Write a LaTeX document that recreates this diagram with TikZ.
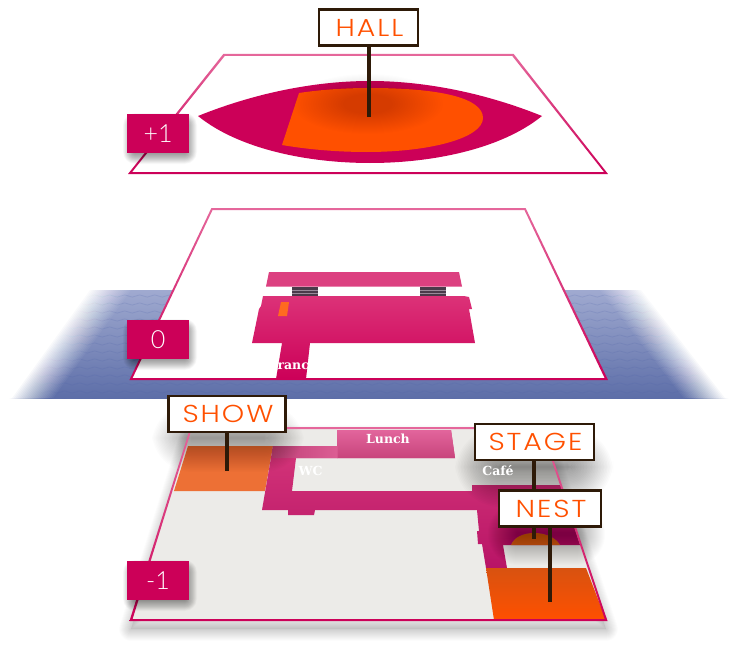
\documentclass[tikz,border=0pt]{standalone}
\usepackage{fontspec}
\usetikzlibrary{decorations.pathmorphing}
\newfontfamily\labfont[LetterSpace=8,FakeStretch=1.16]{Poppins Light}
\newfontfamily\lvlfont{Lato Light}
\newfontfamily\roomfont{DejaVu Serif}
\definecolor{mag}{HTML}{CC0058}
\definecolor{pinkline}{HTML}{E5679B}
\definecolor{org}{HTML}{FF5000}
\definecolor{polecol}{HTML}{2E1A08}
\definecolor{floorgrey}{HTML}{ECEBE8}
\definecolor{bandtop}{HTML}{A0AAD0}
\definecolor{bandbot}{HTML}{5D6EA8}
\definecolor{wave}{HTML}{4C60A8}
\definecolor{barpink}{HTML}{DC4080}
\definecolor{stairdark}{HTML}{4A3A4A}
\definecolor{stairlite}{HTML}{9A8A9A}
\definecolor{mainpink}{HTML}{DC3278}
\definecolor{liftorg}{HTML}{FF6A20}
\definecolor{showorg}{HTML}{ED7035}
\definecolor{ringa}{HTML}{D83A7C}
\definecolor{ringb}{HTML}{D02E74}
\definecolor{ringc}{HTML}{B81466}
\definecolor{lunchtop}{HTML}{E2659C}
\definecolor{lunchbot}{HTML}{C8447C}
\definecolor{ringleft}{HTML}{C04078}
\definecolor{ringright}{HTML}{DC5E94}
\definecolor{stageorg}{HTML}{E86020}
\definecolor{nestdark}{HTML}{D85210}
% soft shadow of a rectangle: stacked translucent rounded rectangles
\newcommand{\softrect}[6]{%
  \foreach \k in {1,...,30}{%
    \pgfmathsetmacro{\w}{#5*(\k/30-0.5)}%
    \pgfmathsetmacro{\rr}{max(0.1,#5*\k/30)}%
    \fill[black,opacity=#6,rounded corners=\rr pt] ({#1-\w},{#2-\w}) rectangle ({#3+\w},{#4+\w});
  }}
\tikzset{
  flag/.style={draw=polecol,line width=2.2pt,fill=white,text=org,inner sep=0pt,
     minimum height=36pt,execute at begin node=\kern2pt,
     font=\labfont\fontsize{24.5}{24.5}\selectfont},
  pole/.style={draw=polecol,line width=4pt},
  level/.style={fill=mag,text=white,minimum width=62pt,minimum height=39pt,inner sep=0pt,
     font=\lvlfont\fontsize{25}{25}\selectfont},
  room/.style={text=white,inner sep=0pt,font=\roomfont\bfseries\fontsize{12.5}{12.5}\selectfont},
}
\begin{document}
\begin{tikzpicture}[x=1pt,y=-1pt]
\useasboundingbox (0,0) rectangle (743,650);
\fill[white] (0,0) rectangle (743,650);

% ---------- blue band
\begin{scope}
  \clip (0,290) rectangle (743,398);
  \shade[top color=bandtop,bottom color=bandbot] (0,290) rectangle (743,398);
  \foreach \yy in {296,304,...,400}
    \draw[color=wave,opacity=.18,line width=.8pt,decorate,
      decoration={snake,amplitude=1.1pt,segment length=15pt}] (0,\yy) -- (743,\yy);
  \foreach \k in {1,...,24}{
    \pgfmathsetmacro{\a}{1/(24-\k+1)}
    \pgfmathsetmacro{\d}{43*\k/24}
    \fill[white,opacity=\a] (-5,285) -- ({133-\d},290) -- ({55-\d},398) -- (-5,403) -- cycle;
    \fill[white,opacity=\a] (748,285) -- ({598+\d},290) -- ({682+\d},398) -- (748,403) -- cycle;
  }
\end{scope}

% ---------- floor +1
\fill[white] (224,55) -- (513,55) -- (606,173) -- (130,173) -- cycle;
\fill[mag] (198,116) .. controls (260,91) and (320,81) .. (370,81)
   .. controls (420,81) and (480,91) .. (542,116)
   .. controls (500,150) and (430,163) .. (370,163)
   .. controls (310,163) and (240,150) .. (198,116) -- cycle;
\fill[org] (299,93) .. controls (325,89) and (350,88) .. (370,88)
   .. controls (440,88) and (483,98) .. (483,118)
   .. controls (483,138) and (430,152) .. (367,152)
   .. controls (335,152) and (305,149) .. (282,145) -- cycle;
\foreach \k in {10,...,30}
  \fill[black,opacity=.0065] (368,104) ellipse ({2.5*\k} and {1*\k});
\shade[even odd rule,top color=pinkline,bottom color=mag]
  (223.3,54) -- (513.7,54) -- (608,174) -- (128,174) -- cycle
  (224.7,56) -- (512.3,56) -- (604,172) -- (132.1,172) -- cycle;
\softrect{129}{119}{191}{158}{12}{.015}
\node[level] (lvlA) at (158,133.5) {+1};
\coordinate (hallfoot) at (368,117);
\node[flag,minimum width=99pt] (hall) at (368.5,27.5) {HALL};
\draw[pole] (hall.south) -- (hall.south |- hallfoot);

% ---------- floor 0
\fill[white] (212,209) -- (525,209) -- (606,379) -- (131,379) -- cycle;
\fill[barpink] (269,272) -- (459,272) -- (462,286.5) -- (266,286.5) -- cycle;
\foreach \sx in {292,420}{
  \fill[stairdark] (\sx,287) rectangle ({\sx+25.5},296);
  \draw[stairlite,line width=.6pt] (\sx,290) -- ({\sx+25.5},290) (\sx,293) -- ({\sx+25.5},293);
}
\shade[top color=mainpink,bottom color=mag]
  (263,296) -- (464,296) -- (469,297) -- (472,309) -- (469,309) -- (475,343)
  -- (310,343) -- (306,379) -- (276,379) -- (282,343) -- (252,343) -- (259,309) -- (261,306) -- cycle;
\fill[liftorg] (281,302) -- (289,302) -- (287,316) -- (278,316) -- cycle;
\node[room] (entrance) at (285,365.5) {Entrance};
\shade[even odd rule,top color=pinkline,bottom color=mag]
  (211.4,208) -- (525.6,208) -- (608,380) -- (129.4,380) -- cycle
  (212.6,210) -- (524.4,210) -- (604.6,378) -- (132.6,378) -- cycle;
\softrect{129}{325}{191}{364}{12}{.015}
\node[level] (lvlB) at (158,339.5) {0};

% ---------- floor -1
\begin{scope}[shift={(0,9)}]
  \fill[black,opacity=.05] (191,428) -- (542,428) -- (606,620) -- (131,620) -- cycle;
  \foreach \k in {1,...,24}
    \draw[black,opacity=.008,line width=\k pt,line join=round]
      (191,428) -- (542,428) -- (606,620) -- (131,620) -- cycle;
\end{scope}
\fill[floorgrey] (191,428) -- (542,428) -- (606,620) -- (131,620) -- cycle;
% show room
\fill[showorg] (188,446) -- (273,446) -- (265,491) -- (174,491) -- cycle;
% corridors and rooms
\shade[top color=ringa,middle color=ringb,bottom color=ringc]
  (273,446) -- (337,446) -- (337,430) -- (451,430) -- (455,458) -- (296,458)
  -- (292,491) -- (472,491) -- (472,485) -- (561,485) -- (580,545) -- (503,545)
  -- (507,568) -- (486,568) -- (482,544) -- (478,544) -- (477,531) -- (479,531)
  -- (477,510) -- (315,510) -- (314,515) -- (288,515) -- (288,510) -- (262,510) -- cycle;
\shade[top color=lunchtop,bottom color=lunchbot]
  (337,430) -- (451,430) -- (455,458) -- (337,458) -- cycle;
\shade[left color=ringleft,right color=ringright]
  (273,446) -- (337.5,446) -- (337.5,458) -- (296,458) -- (272,458) -- cycle;
% stage
\fill[stageorg] (511,545) .. controls (514,537) and (524,533) .. (534,533)
  .. controls (546,533) and (556,538) .. (560,545) -- cycle;
% nest room
\shade[top color=nestdark,middle color=org,bottom color=org]
  (486,568) -- (586,568) -- (606,620) -- (494,620) -- cycle;
% shadows of the flags on the floor
\begin{scope}
  \clip (60,399) rectangle (640,640);
  \softrect{172}{424}{284}{452}{40}{.012}
  \softrect{478}{450}{590}{484}{46}{.017}
  \softrect{503}{518}{590}{550}{30}{.011}
\end{scope}
\tikzset{roomsmall/.style={room,font=\roomfont\bfseries\fontsize{12.5}{12.5}\selectfont}}
\node[roomsmall] (lunch) at (388,439) {Lunch};
\node[roomsmall] (wc) at (310.5,470.5) {WC};
\node[roomsmall] (cafe) at (498,471) {Café};
\shade[even odd rule,top color=pinkline,bottom color=mag]
  (190.5,427) -- (542.5,427) -- (607.5,621) -- (129.5,621) -- cycle
  (191.7,429) -- (541.3,429) -- (604.7,619) -- (132.6,619) -- cycle;
\softrect{129}{566}{191}{605}{12}{.015}
\node[level] (lvlC) at (158,580.5) {-1};

% flags of floor -1
\coordinate (showfoot) at (227,471);
\coordinate (stagefoot) at (534,539);
\coordinate (nestfoot) at (550,602);
\node[flag,minimum width=117pt] (show) at (227,414) {SHOW};
\draw[pole] (show.south -| showfoot) -- (showfoot);
\node[flag,minimum width=119pt] (stage) at (534.5,442) {STAGE};
\draw[pole] (stage.south -| stagefoot) -- (stagefoot);
\node[flag,minimum width=102pt] (nest) at (550,508.5) {NEST};
\draw[pole] (nest.south -| nestfoot) -- (nestfoot);
\end{tikzpicture}
\end{document}
